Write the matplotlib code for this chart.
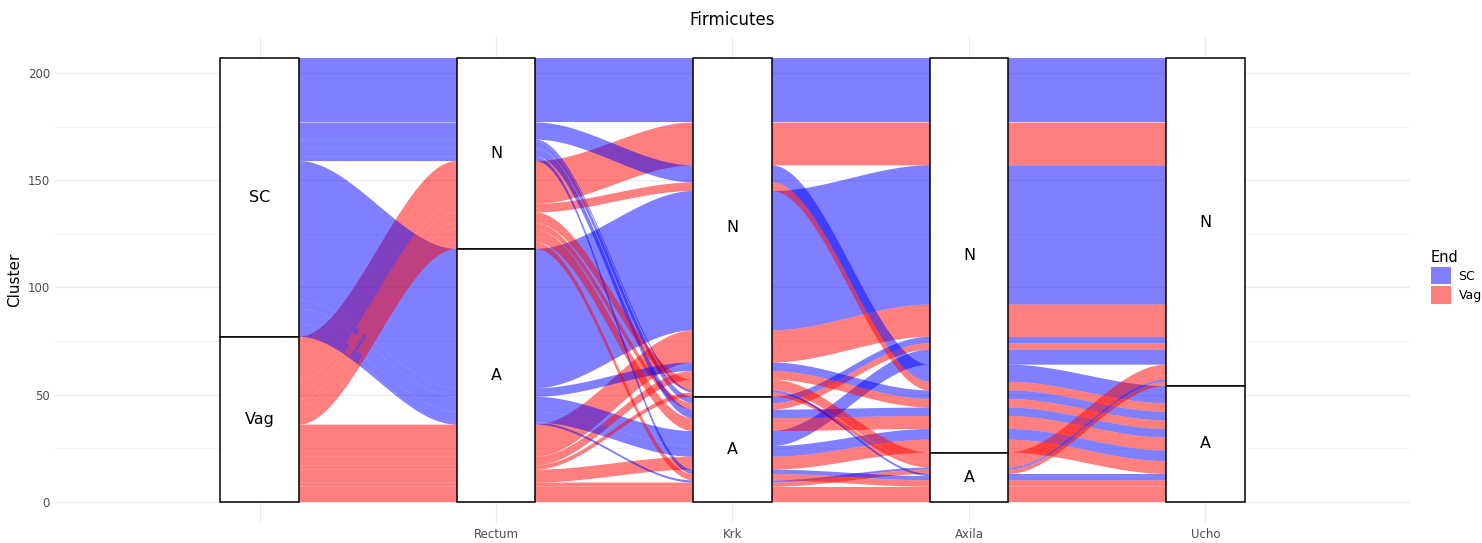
import numpy as np
import matplotlib.pyplot as plt
from matplotlib.patches import Rectangle, Patch

# axes of the alluvial plot (first one has no label)
axis_labels = ["", "Rectum", "Krk", "Axila", "Ucho"]
end_levels = ["SC", "Vag"]
site_levels = ["N", "A"]

# one row per group of subjects that follow the same path
end_grp = ["SC", "Vag", "SC", "Vag", "SC", "Vag", "SC",
           "SC", "Vag", "SC", "Vag", "SC", "Vag", "SC", "Vag",
           "Vag", "Vag", "SC", "Vag",
           "SC", "SC", "Vag", "Vag"]
rectum = ["N", "N", "A", "A", "N", "N", "A",
          "N", "N", "A", "A", "N", "N", "A", "A",
          "N", "A", "A", "A",
          "N", "N", "N", "A"]
krk = ["N", "N", "N", "N", "A", "A", "A",
       "N", "N", "N", "N", "A", "A", "A", "A",
       "N", "N", "A", "A",
       "N", "A", "A", "A"]
axila = ["N", "N", "N", "N", "N", "N", "N",
         "N", "N", "N", "N", "N", "N", "N", "N",
         "A", "A", "A", "A",
         "A", "A", "A", "A"]
ucho = ["N", "N", "N", "N", "N", "N", "N",
        "A", "A", "A", "A", "A", "A", "A", "A",
        "N", "N", "N", "N",
        "A", "A", "A", "A"]
counts = [30, 20, 65, 15, 3, 3, 7,
          8, 4, 4, 4, 4, 6, 5, 6,
          5, 2, 1, 2,
          1, 2, 3, 7]

fill_colors = {"SC": "blue", "Vag": "red"}


def zigzag(n, i):
    # same lode guidance as ggalluvial's lode_zigzag (1-based inside)
    k = i + 1
    r1 = k - 1
    r2 = n - k
    r = min(r1, r2)
    zz = (-1, 1) if k <= n / 2 else (1, -1)
    order = [k]
    for j in range(1, r + 1):
        order += [k + j * zz[0], k + j * zz[1]]
    if r1 != r2:
        sgn = 1 if r2 > r1 else -1
        start = k + sgn * (r + 1)
        stop = n if sgn == 1 else 1
        order += list(range(start, stop + sgn, sgn))
    return [o - 1 for o in order]


paths = [end_grp, rectum, krk, axila, ucho]
levels = [end_levels] + [site_levels] * 4
n_ax = len(paths)
n_grp = len(counts)
total = sum(counts)
rank = np.array([[levels[a].index(paths[a][g]) for a in range(n_ax)] for g in range(n_grp)])

# lode positions at each axis
tops = np.zeros((n_grp, n_ax))
for a in range(n_ax):
    guide = zigzag(n_ax, a)
    order = sorted(range(n_grp), key=lambda g: tuple(rank[g][guide]) + (g,))
    y = total
    for g in order:
        tops[g, a] = y
        y -= counts[g]
bottoms = tops - np.array(counts)[:, None]

xpos = np.arange(1, n_ax + 1)
width = 1 / 3


def smooth(t):
    return 3 * t ** 2 - 2 * t ** 3


def edge(vals):
    xs, ys = [], []
    for a in range(n_ax):
        xs += [xpos[a] - width / 2, xpos[a] + width / 2]
        ys += [vals[a], vals[a]]
        if a < n_ax - 1:
            t = np.linspace(0, 1, 60)[1:-1]
            x0 = xpos[a] + width / 2
            x1 = xpos[a + 1] - width / 2
            xs += list(x0 + t * (x1 - x0))
            ys += list(vals[a] + (vals[a + 1] - vals[a]) * smooth(t))
    return xs, ys


fig = plt.figure(figsize=(14.82, 5.43), dpi=100)
ax = fig.add_axes([0.0371, 0.035, 0.9143, 0.8987])

ax.set_xlim(0.135, 5.865)
ax.set_ylim(-10.35, 217.35)
ax.set_yticks([0, 50, 100, 150, 200])
ax.set_yticks([25, 75, 125, 175], minor=True)
ax.set_xticks(xpos)
ax.set_xticklabels(axis_labels)
ax.grid(True, which="major", color="#ebebeb", lw=0.9, zorder=0)
ax.grid(True, which="minor", axis="y", color="#f2f2f2", lw=0.6, zorder=0)
ax.set_axisbelow(True)
for s in ax.spines.values():
    s.set_visible(False)
ax.tick_params(axis="both", which="both", length=0, labelsize=8.5, labelcolor="#4d4d4d")
ax.tick_params(axis="x", pad=3)

# alluvia
for g in range(n_grp):
    xt, yt = edge(tops[g])
    xb, yb = edge(bottoms[g])
    ax.fill(xt + xb[::-1], yt + yb[::-1], color=fill_colors[end_grp[g]],
            alpha=0.5, lw=0, zorder=2)

# strata boxes
for a in range(n_ax):
    y = total
    for lev in levels[a]:
        h = sum(c for c, v in zip(counts, paths[a]) if v == lev)
        if h == 0:
            continue
        ax.add_patch(Rectangle((xpos[a] - width / 2, y - h), width, h,
                               facecolor="white", edgecolor="black", lw=1.1, zorder=3))
        ax.text(xpos[a], y - h / 2, lev, ha="center", va="center", fontsize=11.5, zorder=4)
        y -= h

ax.set_ylabel("Cluster", fontsize=11, labelpad=4)
ax.set_title("Firmicutes", fontsize=12, pad=8)

handles = [Patch(facecolor=fill_colors[k], alpha=0.5, edgecolor="none", label=k) for k in end_levels]
fig.legend(handles=handles, title="End", loc="center left", bbox_to_anchor=(0.958, 0.49),
           frameon=False, fontsize=9, title_fontsize=10.5, handlelength=1.6, handleheight=1.8,
           handletextpad=0.6, labelspacing=0.15, alignment="left")

fig.savefig("out.png", dpi=100)
